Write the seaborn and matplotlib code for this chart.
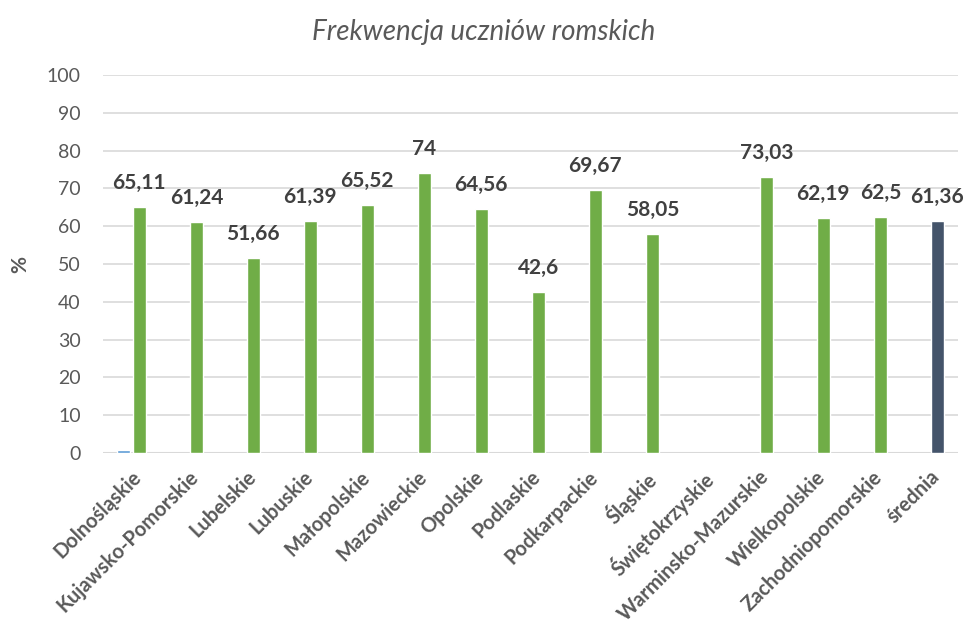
import matplotlib
matplotlib.use('Agg')
import matplotlib.pyplot as plt
import numpy as np
import pandas as pd
import seaborn as sns

#%% dane
wojewodztwa = ['Dolnośląskie', 'Kujawsko-Pomorskie', 'Lubelskie', 'Lubuskie', 'Małopolskie',
               'Mazowieckie', 'Opolskie', 'Podlaskie', 'Podkarpackie', 'Śląskie',
               'Świętokrzyskie', 'Warminsko-Mazurskie', 'Wielkopolskie', 'Zachodniopomorskie', 'średnia']
seria1 = [0.8, np.nan, np.nan, np.nan, np.nan, np.nan, np.nan, np.nan, np.nan, np.nan,
          np.nan, np.nan, np.nan, np.nan, np.nan]
frekwencja = [65.11, 61.24, 51.66, 61.39, 65.52, 74, 64.56, 42.6, 69.67, 58.05,
              np.nan, 73.03, 62.19, 62.5, 61.36]
yticks = [0, 10, 20, 30, 40, 50, 60, 70, 80, 90, 100]

df = pd.DataFrame({'woj': wojewodztwa * 2,
                   'seria': ['s1'] * len(wojewodztwa) + ['s2'] * len(wojewodztwa),
                   'val': seria1 + frekwencja}).dropna()

#%% wykres
sns.set_style('white')
plt.rcParams['font.family'] = ['Lato', 'DejaVu Sans']
szary = '#595959'

fig = plt.figure(figsize=(9.67, 6.32), dpi=100)
ax = fig.add_axes([0.1065, 0.2832, 0.8842, 0.5981])

sns.barplot(data=df, x='woj', y='val', hue='seria', order=wojewodztwa, hue_order=['s1', 's2'],
            palette={'s1': '#5B9BD5', 's2': '#70AD47'}, width=0.55, gap=0.15,
            saturation=1, legend=False, ax=ax)

# średnia na ciemno
for p in ax.patches:
    if abs(p.get_x() + p.get_width() / 2 - 14) < 0.5:
        p.set_facecolor('#44546A')

# etykiety danych (tylko druga seria)
cont = ax.containers[1]
etyk = [f'{v:g}'.replace('.', ',') for v in cont.datavalues]
ax.bar_label(cont, labels=etyk, padding=10, fontsize=15, fontweight='bold', color='#404040')

ax.set_ylim(0, 100)
ax.set_xlim(-0.5, len(wojewodztwa) - 0.5)
ax.set_yticks(yticks)
ax.yaxis.grid(True, color='#D9D9D9', linewidth=1.2)
ax.set_axisbelow(True)
for s in ax.spines.values():
    s.set_visible(False)
ax.axhline(0, color='#D9D9D9', linewidth=1.5, zorder=0)

ax.tick_params(axis='both', length=0, labelcolor=szary, labelsize=14)
ax.tick_params(axis='y', pad=16)
ax.set_xticks(range(len(wojewodztwa)))
ax.set_xticklabels(wojewodztwa, rotation=45, ha='right', rotation_mode='anchor',
                   fontsize=14.5, fontweight='bold')
ax.tick_params(axis='x', pad=10)

ax.set_xlabel('')
ax.set_ylabel('%', fontsize=15, fontweight='bold', color=szary, labelpad=12)

fig.suptitle('Frekwencja uczniów romskich', x=0.5, y=0.97, fontsize=20, style='italic', color=szary)

fig.savefig('out.png', dpi=100)
